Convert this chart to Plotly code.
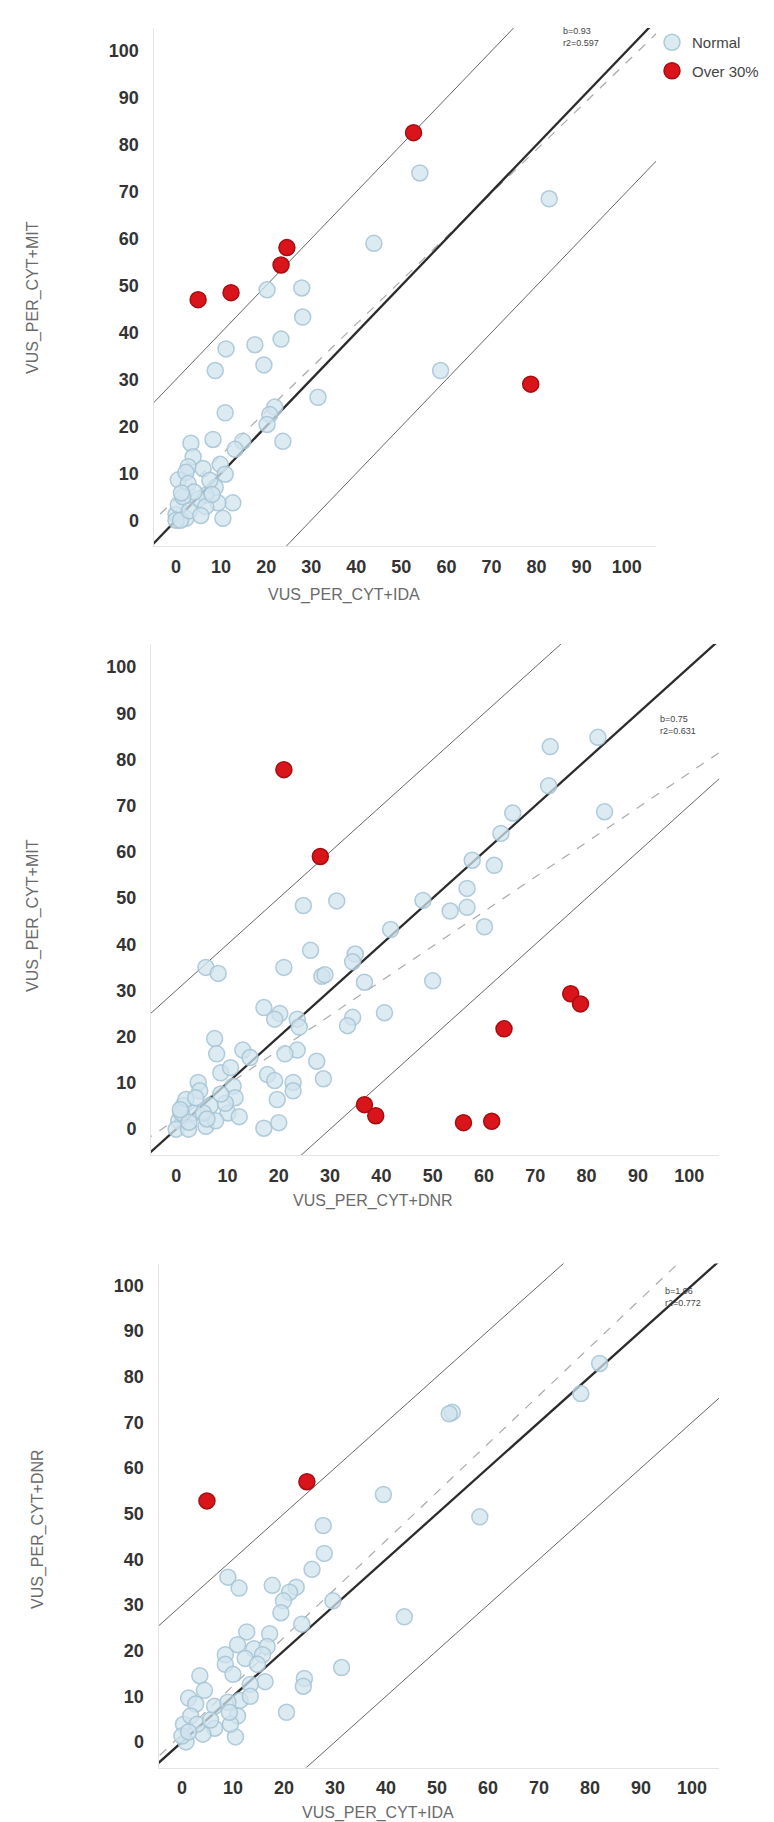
import plotly.graph_objects as go

W, H = 774, 1822

# ---------------- Data ----------------
# Panel 1: VUS_PER_CYT+IDA (x) vs VUS_PER_CYT+MIT (y)
p1_norm_x = [54.1, 82.8, 43.9, 20.2, 27.9, 28.1, 17.5, 23.3, 11.1, 19.5, 8.7, 58.7, 31.5, 10.9, 21.9,
             20.8, 20.2, 23.7, 3.3, 8.2, 14.8, 13.1, 3.8, 2.7, 6.0, 0.5, 2.2, 9.8, 10.9, 8.7,
             6.6, 4.9, 12.6, 9.3, 10.4, 2.2, 0.0, 0.5, 0.0, 1.0, 6.6, 2.7, 4.0, 1.5, 7.5,
             3.0, 5.5, 1.2, 8.0]
p1_norm_y = [74.0, 68.5, 59.0, 49.1, 49.5, 43.3, 37.4, 38.6, 36.5, 33.1, 31.9, 31.9, 26.2, 22.9, 24.1,
             22.5, 20.4, 16.8, 16.4, 17.2, 16.8, 15.1, 13.5, 11.4, 11.0, 8.6, 10.2, 11.9, 9.8, 7.0,
             5.3, 4.5, 3.7, 3.7, 0.4, 0.4, 1.2, 3.3, 0.0, 0.0, 2.9, 7.8, 6.0, 5.0, 8.5,
             2.0, 1.0, 5.8, 5.5]
p1_red_x = [4.9, 12.2, 23.3, 24.6, 52.7, 78.7]
p1_red_y = [47.0, 48.5, 54.4, 58.1, 82.6, 29.0]
p1_slope, p1_icpt = 0.93, 4.6
p1_stats = ["b=0.93", "r2=0.597"]

# Panel 2: VUS_PER_CYT+DNR (x) vs VUS_PER_CYT+MIT (y)
p2_norm_x = [82.2, 72.9, 72.6, 83.5, 65.6, 63.3, 57.7, 62.0, 56.7, 56.7, 48.1, 53.4, 60.1, 31.3, 24.8,
             41.8, 26.2, 34.9, 34.4, 21.0, 28.4, 29.0, 36.7, 50.0, 5.8, 8.2, 17.1, 20.2, 19.2, 23.6,
             24.0, 34.4, 33.4, 40.6, 7.5, 7.9, 13.0, 14.4, 23.6, 21.2, 27.4, 28.7, 17.8, 19.2, 22.8,
             22.8, 19.7, 8.7, 4.3, 4.6, 11.1, 11.5, 10.1, 12.3, 17.1, 20.0, 5.8, 1.4, 0.5, 1.9,
             3.4, 0.0, 2.4, 6.7, 7.7, 5.3, 3.8, 9.6, 8.7, 1.0, 10.6, 2.5, 6.0, 0.8]
p2_norm_y = [84.8, 82.8, 74.3, 68.7, 68.4, 64.0, 58.2, 57.1, 52.1, 48.0, 49.5, 47.2, 43.8, 49.4, 48.4,
             43.2, 38.7, 37.9, 36.2, 35.0, 33.1, 33.4, 31.8, 32.1, 35.0, 33.7, 26.3, 25.0, 23.8, 23.8,
             22.1, 24.2, 22.4, 25.2, 19.6, 16.3, 17.1, 15.5, 17.1, 16.3, 14.7, 10.9, 11.8, 10.5, 10.1,
             8.3, 6.4, 12.2, 10.1, 8.3, 9.3, 6.8, 3.5, 2.7, 0.2, 1.4, 0.6, 5.1, 1.8, 6.4,
             3.5, 0.0, 0.0, 5.1, 1.8, 3.5, 6.8, 5.6, 7.6, 3.5, 13.3, 1.5, 2.2, 4.2]
p2_red_x = [21.0, 28.1, 36.7, 38.9, 56.0, 61.5, 63.9, 76.9, 78.8]
p2_red_y = [77.8, 59.0, 5.3, 2.9, 1.4, 1.7, 21.7, 29.3, 27.1]
p2_slope, p2_icpt = 0.75, 2.1
p2_stats = ["b=0.75", "r2=0.631"]

# Panel 3: VUS_PER_CYT+IDA (x) vs VUS_PER_CYT+DNR (y)
p3_norm_x = [81.9, 78.2, 53.0, 52.4, 39.5, 58.4, 27.7, 27.9, 25.5, 9.0, 11.2, 17.7, 22.4, 21.1, 19.9,
             19.4, 29.6, 43.6, 23.5, 12.7, 17.2, 8.5, 8.5, 10.9, 14.1, 16.7, 12.4, 15.8, 14.8, 16.3,
             13.4, 24.0, 23.8, 31.3, 3.5, 4.4, 1.3, 2.7, 6.4, 11.4, 13.4, 10.9, 9.0, 20.5, 0.3,
             1.7, 6.4, 4.1, 10.5, 0.8, 0.0, 3.0, 5.6, 9.5, 9.3, 1.3, 10.0]
p3_norm_y = [82.9, 76.3, 72.2, 71.9, 54.2, 49.3, 47.4, 41.3, 37.8, 36.1, 33.7, 34.3, 33.9, 32.8, 30.9,
             28.3, 30.9, 27.4, 25.8, 24.1, 23.7, 19.1, 17.0, 21.3, 20.4, 20.9, 18.3, 19.1, 17.0, 13.2,
             12.6, 13.9, 12.2, 16.3, 14.5, 11.3, 9.6, 8.3, 7.8, 9.1, 10.0, 5.7, 8.7, 6.5, 3.9,
             5.7, 3.0, 1.7, 1.1, 0.0, 1.3, 3.9, 4.8, 3.9, 6.5, 2.2, 14.8]
p3_red_x = [4.9, 24.5]
p3_red_y = [52.8, 57.0]
p3_slope, p3_icpt = 1.06, 1.7
p3_stats = ["b=1.06", "r2=0.772"]

band = 30  # +/- 30% limits
tick_vals = [0, 10, 20, 30, 40, 50, 60, 70, 80, 90, 100]
tick_text = [str(v) for v in tick_vals]
legend_names = ["Normal", "Over 30%"]

panels = [
    dict(nx=p1_norm_x, ny=p1_norm_y, rx=p1_red_x, ry=p1_red_y, b=p1_slope, a=p1_icpt, stats=p1_stats,
         xt="VUS_PER_CYT+IDA", yt="VUS_PER_CYT+MIT",
         xpx=(145.5, 648), xr=(-5, 106.5), ypx=(20, 538), yr=(-5.5, 104.9),
         xtitle_pos=(336, 587), ytitle_pos=(25, 290), stat_pos=(553, 29)),
    dict(nx=p2_norm_x, ny=p2_norm_y, rx=p2_red_x, ry=p2_red_y, b=p2_slope, a=p2_icpt, stats=p2_stats,
         xt="VUS_PER_CYT+DNR", yt="VUS_PER_CYT+MIT",
         xpx=(143, 711), xr=(-4.9, 105.8), ypx=(636, 1147), yr=(-5.6, 105),
         xtitle_pos=(365, 1193), ytitle_pos=(25, 908), stat_pos=(650, 717)),
    dict(nx=p3_norm_x, ny=p3_norm_y, rx=p3_red_x, ry=p3_red_y, b=p3_slope, a=p3_icpt, stats=p3_stats,
         xt="VUS_PER_CYT+IDA", yt="VUS_PER_CYT+DNR",
         xpx=(150.5, 711), xr=(-4.6, 105.3), ypx=(1255.5, 1759.5), yr=(-5.6, 104.8),
         xtitle_pos=(370, 1805), ytitle_pos=(30, 1521), stat_pos=(655, 1289)),
]

NORM_FILL = "rgba(208,227,238,0.75)"
NORM_LINE = "rgba(165,195,212,0.85)"
RED_FILL = "#d9141b"
RED_LINE = "#a80d10"

fig = go.Figure()
layout = dict(width=W, height=H, margin=dict(l=0, r=0, t=0, b=0),
              paper_bgcolor="white", plot_bgcolor="white", annotations=[],
              font=dict(family="Liberation Sans, Arial", color="#333"))

def px(x):
    return x / W

def py(y):
    return 1 - y / H

for i, p in enumerate(panels, start=1):
    xa = "x" if i == 1 else f"x{i}"
    ya = "y" if i == 1 else f"y{i}"
    lx = [p["xr"][0] - 10, p["xr"][1] + 10]
    # reference lines
    fig.add_trace(go.Scatter(x=lx, y=[v + band for v in lx], mode="lines", xaxis=xa, yaxis=ya,
                             line=dict(color="#555", width=0.9), showlegend=False, hoverinfo="skip"))
    fig.add_trace(go.Scatter(x=lx, y=[v - band for v in lx], mode="lines", xaxis=xa, yaxis=ya,
                             line=dict(color="#555", width=0.9), showlegend=False, hoverinfo="skip"))
    fig.add_trace(go.Scatter(x=lx, y=[p["b"] * v + p["a"] for v in lx], mode="lines", xaxis=xa, yaxis=ya,
                             line=dict(color="#aaa", width=1.2, dash="dash"), showlegend=False, hoverinfo="skip"))
    fig.add_trace(go.Scatter(x=lx, y=lx, mode="lines", xaxis=xa, yaxis=ya,
                             line=dict(color="#2b2b2b", width=2.3), showlegend=False, hoverinfo="skip"))
    # points
    fig.add_trace(go.Scatter(x=p["nx"], y=p["ny"], mode="markers", xaxis=xa, yaxis=ya,
                             name=legend_names[0], legendgroup="n", showlegend=(i == 1),
                             marker=dict(size=16, color=NORM_FILL, line=dict(color=NORM_LINE, width=1.5))))
    fig.add_trace(go.Scatter(x=p["rx"], y=p["ry"], mode="markers", xaxis=xa, yaxis=ya,
                             name=legend_names[1], legendgroup="r", showlegend=(i == 1),
                             marker=dict(size=16, color=RED_FILL, line=dict(color=RED_LINE, width=1.5))))

    axcommon = dict(showgrid=False, zeroline=False, showline=True, linecolor="#e4e4e4", linewidth=1,
                    ticks="", tickvals=tick_vals, ticktext=tick_text,
                    tickfont=dict(family="Liberation Sans, Arial", size=18, color="#333", weight="bold"))
    layout["xaxis" if i == 1 else f"xaxis{i}"] = dict(
        axcommon, domain=[px(p["xpx"][0]), px(p["xpx"][1])], range=list(p["xr"]),
        anchor=ya, ticklabelstandoff=4)
    layout["yaxis" if i == 1 else f"yaxis{i}"] = dict(
        axcommon, domain=[py(p["ypx"][1]), py(p["ypx"][0])], range=list(p["yr"]),
        anchor=xa, ticklabelstandoff=10)

    layout["annotations"].append(dict(
        x=px(p["xtitle_pos"][0]), y=py(p["xtitle_pos"][1]), xref="paper", yref="paper",
        text=p["xt"], showarrow=False, xanchor="center", yanchor="middle",
        font=dict(size=16, color="#6a6a6a")))
    layout["annotations"].append(dict(
        x=px(p["ytitle_pos"][0]), y=py(p["ytitle_pos"][1]), xref="paper", yref="paper",
        text=p["yt"], showarrow=False, xanchor="center", yanchor="middle", textangle=-90,
        font=dict(size=16, color="#6a6a6a")))
    layout["annotations"].append(dict(
        x=px(p["stat_pos"][0]), y=py(p["stat_pos"][1]), xref="paper", yref="paper",
        text="<br>".join(p["stats"]), showarrow=False, xanchor="left", yanchor="middle",
        align="left", font=dict(size=9, color="#444")))

layout["legend"] = dict(x=px(644), y=py(18), xanchor="left", yanchor="top",
                        font=dict(size=15, color="#444"), tracegroupgap=6,
                        bgcolor="rgba(0,0,0,0)", itemsizing="trace", borderwidth=0)

fig.update_layout(**layout)
fig.write_html("out.html")
